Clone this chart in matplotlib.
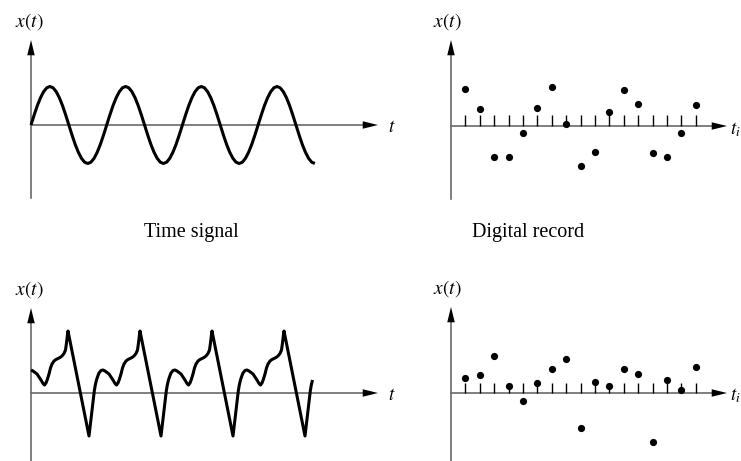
import numpy as np
import matplotlib.pyplot as plt

plt.rcParams['font.family'] = ['Liberation Serif', 'DejaVu Serif']
plt.rcParams['mathtext.fontset'] = 'stix'

# ---- data (units ~ pixels of the original) ----
# time signal: one cycle of the sine, sampled every 1/24 period
sine_cycle = [0, 10, 19.3, 27.2, 33.3, 37.2, 38.5, 37.2, 33.3, 27.2, 19.3, 10,
              0, -10, -19.3, -27.2, -33.3, -37.2, -38.5, -37.2, -33.3, -27.2, -19.3, -10]
sine_period = 75.7
sine_samples = 91          # 3.75 cycles, ends in a trough

# distorted signal: key points of one cycle, starting at the small hump
wave_phase = [0, 2, 4, 6, 8, 10, 12, 13.5, 15, 16.5, 18, 19.5, 21, 23, 25, 27, 29,
              31, 33, 34.5, 35.5, 36.3, 37, 58, 59.5, 61, 62.3, 63.3, 64.3, 65.5,
              66.8, 68, 70]
wave_value = [23, 22, 20.5, 19, 16, 13, 9.5, 8, 10, 14, 19, 25, 29, 32, 33.5, 34.5,
              35.5, 37, 39.5, 43, 50, 57, 62, -43, -30, -17, -5, 2, 8, 13,
              17, 20, 22.5]
wave_period = 72
wave_end = 281.5

# digital records
sample_step = 14.4
record_top = [37, 17, -31, -31, -7, 18, 39, 2, -40, -26, 14, 36, 22, -27, -31, -7, 21]
record_bottom = [15, 18, 37, 7, -8, 10, 24, 34, -35, 11, 7, 24, 19, -49, 13, 3, 26]

captions = ['Time signal', 'Digital record']

# ---- figure ----
W, H = 741, 461
fig = plt.figure(figsize=(W / 100, H / 100), dpi=100)
AXIS_COLOR = '#6a6a6a'


def panel(box, origin, y_low, y_tip, x_tip, t_label, t_pos):
    x0, y0, x1, y1 = box
    ox, oy = origin
    ax = fig.add_axes([x0 / W, 1 - y1 / H, (x1 - x0) / W, (y1 - y0) / H])
    ax.set_xlim(x0 - ox, x1 - ox)
    ax.set_ylim(oy - y1, oy - y0)
    ax.axis('off')

    # axes with arrow heads
    ax.plot([0, 0], [y_low, y_tip - 10], color=AXIS_COLOR, lw=1.2, zorder=1)
    ax.plot([0, x_tip - 10], [0, 0], color=AXIS_COLOR, lw=1.2, zorder=1)
    head = dict(arrowstyle='-|>,head_length=1.1,head_width=0.27', color='black',
                lw=0, shrinkA=0, shrinkB=0, mutation_scale=10)
    ax.annotate('', xy=(0, y_tip), xytext=(0, y_tip - 16), arrowprops=head)
    ax.annotate('', xy=(x_tip, 0), xytext=(x_tip - 16, 0), arrowprops=head)

    ax.text(-2 if x0 == 0 else -4, y_tip + 18, r'$x(t)$', fontsize=14,
            ha='center', va='center')
    ax.text(t_pos[0], t_pos[1], t_label, fontsize=13.5, ha='left', va='center',
            clip_on=False)
    return ax


# time signal
ax1 = panel((0, 0, 380, 210), (31, 125), -73, 85, 347, r'$t$', (357, -2))
sine_t = np.arange(sine_samples) * sine_period / len(sine_cycle)
sine_v = np.tile(sine_cycle, 4)[:sine_samples]
ax1.plot(sine_t, sine_v, color='black', lw=2.2, solid_joinstyle='round',
         solid_capstyle='butt', zorder=3)

# digital record of the sine
ax2 = panel((380, 0, 741, 210), (451, 126), -73, 86, 276, r'$t_i$', (279.5, -4))
t_i = np.arange(1, len(record_top) + 1) * sample_step
ax2.vlines(t_i, 0, 10.5, color='black', lw=1.0, zorder=2)
ax2.plot(t_i, record_top, 'o', ms=5.2, color='black', mec='none', zorder=3)

# distorted signal
ax3 = panel((0, 260, 380, 461), (31, 393), -80, 85, 347, r'$t$', (357, -2))
wave_t = np.concatenate([np.array(wave_phase) + k * wave_period for k in range(4)])
wave_v = np.tile(wave_value, 4)
keep = wave_t <= wave_end
ax3.plot(wave_t[keep], wave_v[keep], color='black', lw=2.2, solid_joinstyle='round',
         solid_capstyle='butt', zorder=3)

# digital record of the distorted signal
ax4 = panel((380, 260, 741, 461), (451, 393), -80, 86, 276, r'$t_i$', (279.5, -3))
ax4.vlines(t_i, 0, 10.5, color='black', lw=1.0, zorder=2)
ax4.plot(t_i, record_bottom, 'o', ms=5.2, color='black', mec='none', zorder=3)

fig.text(191.5 / W, 1 - 232 / H, captions[0], fontsize=14.5, ha='center', va='center')
fig.text(528 / W, 1 - 232 / H, captions[1], fontsize=14.5, ha='center', va='center')

fig.savefig('out.png', dpi=100)
